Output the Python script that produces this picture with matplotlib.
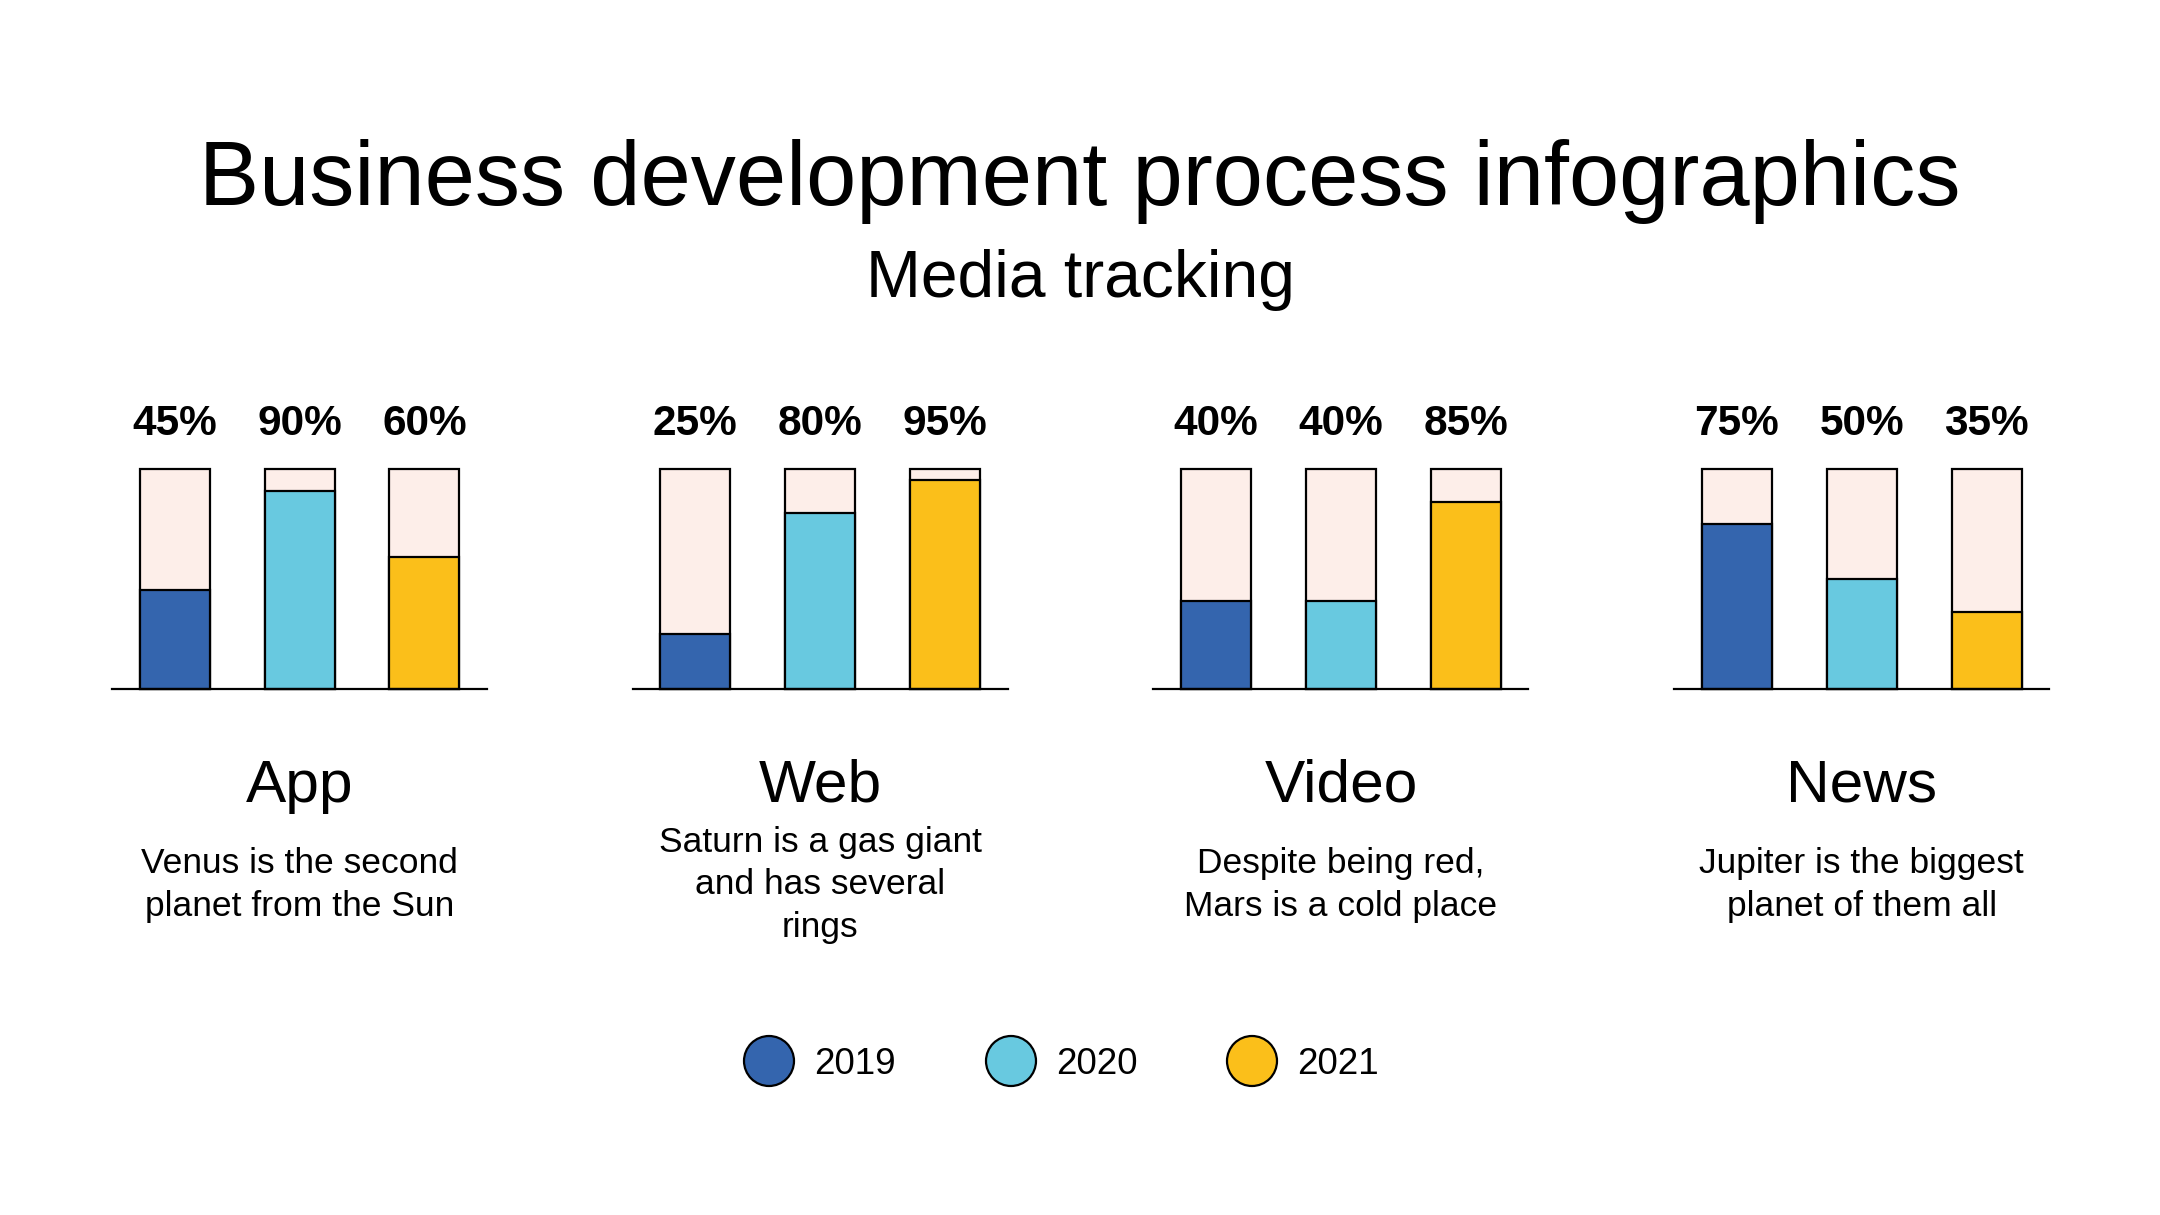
import matplotlib

matplotlib.use("Agg")
import matplotlib.pyplot as plt
from matplotlib.patches import Ellipse

plt.rcParams["font.family"] = ["Liberation Sans", "DejaVu Sans"]

# ---- data -------------------------------------------------------------------
categories = ["App", "Web", "Video", "News"]
descriptions = [
    "Venus is the second\nplanet from the Sun",
    "Saturn is a gas giant\nand has several\nrings",
    "Despite being red,\nMars is a cold place",
    "Jupiter is the biggest\nplanet of them all",
]
years = ["2019", "2020", "2021"]
values = {
    "App": [45, 90, 60],
    "Web": [25, 80, 95],
    "Video": [40, 40, 85],
    "News": [75, 50, 35],
}
full_scale = 100

year_colors = ["#3465ae", "#68c9e0", "#fbbf1a"]
track_color = "#fdeee9"

W, H = 2160, 1215
fig = plt.figure(figsize=(W / 100, H / 100), dpi=100)
fig.patch.set_facecolor("white")


def fx(px):
    return px / W


def fy(py):
    return 1 - py / H


fig.text(fx(1080), fy(181), "Business development process infographics",
         ha="center", va="center", fontsize=65)
fig.text(fx(1080), fy(280), "Media tracking", ha="center", va="center", fontsize=47.5)

# ---- panels -----------------------------------------------------------------
panel_left0 = 112
panel_step = 520.7
panel_w = 375
base_y = 689
top_y = 469

for i, cat in enumerate(categories):
    left = panel_left0 + i * panel_step
    ax = fig.add_axes([fx(left), fy(base_y), panel_w / W, (base_y - top_y) / H])
    x = list(range(len(years)))
    ax.bar(x, [full_scale] * len(x), width=0.56, color=track_color,
           edgecolor="black", linewidth=1.6, clip_on=False, zorder=2)
    ax.bar(x, values[cat], width=0.56, color=year_colors,
           edgecolor="black", linewidth=1.6, clip_on=False, zorder=3)
    for xi, v in zip(x, values[cat]):
        ax.text(xi, 120.5, f"{v}%", ha="center", va="center",
                fontsize=30.5, fontweight="bold", clip_on=False)
    ax.set_xlim(-0.5, 2.5)
    ax.set_ylim(0, full_scale)
    for s in ("top", "left", "right"):
        ax.spines[s].set_visible(False)
    ax.spines["bottom"].set_linewidth(1.6)
    ax.spines["bottom"].set_zorder(4)
    ax.set_xticks([])
    ax.set_yticks([])
    ax.patch.set_alpha(0)

    cx = left + panel_w / 2
    fig.text(fx(cx), fy(786), cat, ha="center", va="center", fontsize=43.5)
    fig.text(fx(cx), fy(885), descriptions[i], ha="center", va="center",
             fontsize=25.5, linespacing=1.37, multialignment="center")

# ---- legend -----------------------------------------------------------------
leg_ax = fig.add_axes([0, 0, 1, 1])
leg_ax.set_xlim(0, W)
leg_ax.set_ylim(H, 0)
leg_ax.axis("off")
leg_x = [769, 1011, 1252]
leg_y = 1061
for lx, yr, col in zip(leg_x, years, year_colors):
    leg_ax.add_patch(Ellipse((lx, leg_y), 50, 50, facecolor=col,
                             edgecolor="black", linewidth=1.6))
    leg_ax.text(lx + 45, leg_y + 3, yr, ha="left", va="center", fontsize=26.5)

fig.savefig("out.png", dpi=100)
